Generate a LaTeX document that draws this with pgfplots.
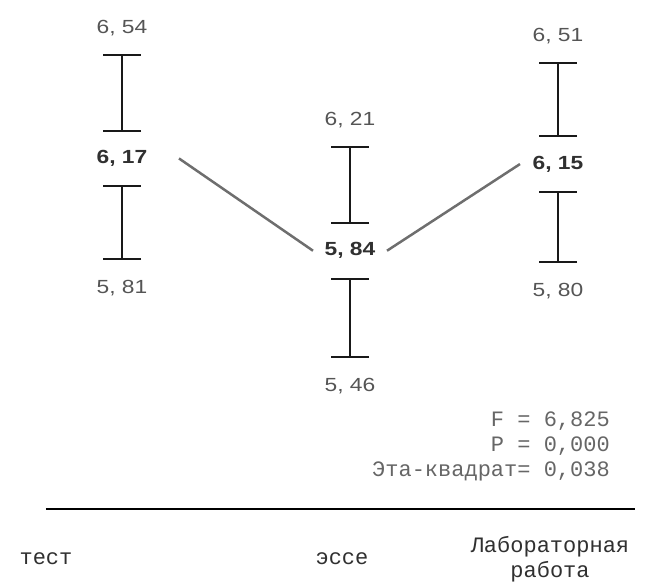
\documentclass[border=0pt]{standalone}
\usepackage{pgfplots}
\pgfplotsset{compat=1.18}
\usepackage{pgfplotstable}
\usepackage{fontspec}
\setmainfont{Liberation Sans}
\setmonofont{Liberation Mono}
\newfontfamily\numfont{Liberation Sans}[FakeStretch=1.2]
\definecolor{valc}{HTML}{555555}
\definecolor{meanc}{HTML}{303030}
\definecolor{linec}{HTML}{6E6E6E}
\definecolor{statc}{HTML}{666666}

\pgfplotstableread{
x mean upper lower mlab ulab llab
122 6.17 6.54 5.81 {6, 17} {6, 54} {5, 81}
350 5.84 6.21 5.46 {5, 84} {6, 21} {5, 46}
558 6.15 6.51 5.80 {6, 15} {6, 51} {5, 80}
}\data

\begin{document}
\begin{tikzpicture}
\begin{axis}[
  scale only axis,
  width=589pt, height=509pt,
  xmin=46, xmax=635,
  ymin=4.9163, ymax=6.7367,
  clip=false,
  axis x line=bottom,
  axis y line=none,
  x axis line style={-, line width=2pt, black},
  xtick={46,342,550},
  xticklabels={тест, эссе, {Лабораторная\\работа}},
  major tick length=0pt,
  ytick=\empty,
  xticklabel style={font=\ttfamily\fontsize{22}{25}\selectfont, text=meanc, align=center, anchor=center, yshift=-50pt},
]
% upper CI segments
\addplot[draw=none, mark=none,
  error bars/.cd, y dir=both, y explicit,
  error bar style={draw=black!90, line width=2pt},
  error mark options={rotate=90, draw=black!90, line width=2pt, mark size=19pt}]
  table[x=x, y expr={(\thisrow{upper}+\thisrow{mean}+0.1)/2},
        y error expr={(\thisrow{upper}-\thisrow{mean}-0.1)/2}] {\data};
% lower CI segments
\addplot[draw=none, mark=none,
  error bars/.cd, y dir=both, y explicit,
  error bar style={draw=black!90, line width=2pt},
  error mark options={rotate=90, draw=black!90, line width=2pt, mark size=19pt}]
  table[x=x, y expr={(\thisrow{lower}+\thisrow{mean}-0.1)/2},
        y error expr={(\thisrow{mean}-0.1-\thisrow{lower})/2}] {\data};
% connecting lines
\addplot[linec, line width=2.5pt] coordinates {(179,6.17) (313,5.84)};
\addplot[linec, line width=2.5pt] coordinates {(387,5.84) (520,6.15)};
% labels
\addplot[draw=none, mark=none, nodes near coords, point meta=explicit symbolic,
  nodes near coords style={anchor=center, yshift=27pt, font=\numfont\fontsize{19}{21}\selectfont, text=valc}]
  table[x=x, y=upper, meta=ulab] {\data};
\addplot[draw=none, mark=none, nodes near coords, point meta=explicit symbolic,
  nodes near coords style={anchor=center, yshift=-29pt, font=\numfont\fontsize{19}{21}\selectfont, text=valc}]
  table[x=x, y=lower, meta=llab] {\data};
\addplot[draw=none, mark=none, nodes near coords, point meta=explicit symbolic,
  nodes near coords style={anchor=center, yshift=0pt, font=\numfont\bfseries\fontsize{19}{21}\selectfont, text=meanc}]
  table[x=x, y=mean, meta=mlab] {\data};
\node[anchor=east, align=right, inner sep=0pt, text=statc,
  font=\ttfamily\fontsize{22}{25}\selectfont] at (axis cs:610,5.14)
  {F = 6,825\\P = 0,000\\Эта-квадрат= 0,038};
\path (axis cs:0,4.6588) rectangle (axis cs:647,6.7367);
\end{axis}
\end{tikzpicture}
\end{document}
